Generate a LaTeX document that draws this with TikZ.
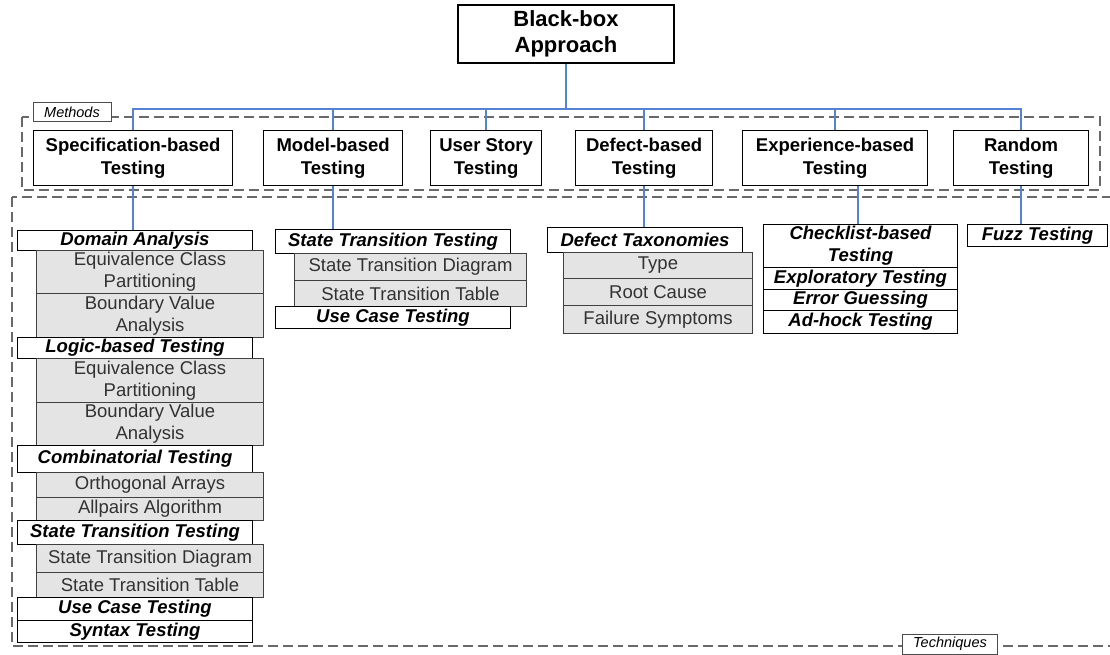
\documentclass[tikz,border=0pt]{standalone}
\usepackage{fontspec}
\setmainfont{Liberation Sans}
\usepackage{xcolor}
\usepackage{tikz}
\usetikzlibrary{calc}
\definecolor{linkblue}{RGB}{85,130,210}
\definecolor{framegray}{RGB}{105,105,105}
\definecolor{itemgray}{RGB}{228,228,228}
\definecolor{itemtext}{RGB}{50,50,50}

\tikzset{
	topbox/.style={draw, line width=1.2pt, inner sep=0pt, align=center,
		font=\bfseries\fontsize{22}{26}\selectfont},
	methodbox/.style={draw, line width=1.2pt, inner sep=0pt, anchor=north west,
		minimum height=55pt, align=center, font=\bfseries\fontsize{18.5}{23}\selectfont},
	techhead/.style={draw, line width=1pt, fill=white, inner sep=0pt, anchor=north west,
		align=center, font=\bfseries\itshape\fontsize{18.5}{22}\selectfont},
	techitem/.style={draw=black!75, line width=1pt, fill=itemgray, text=itemtext,
		inner sep=0pt, anchor=north west, minimum width=227pt, align=center,
		font=\fontsize{18.5}{22}\selectfont},
	groupframe/.style={draw=framegray, line width=1.6pt, dash pattern=on 10pt off 5pt},
	grouplabel/.style={draw=black!70, fill=white, inner sep=0pt,
		font=\itshape\fontsize{14.5}{16}\selectfont},
	link/.style={draw=linkblue, line width=1.4pt}
}

\begin{document}
\begin{tikzpicture}[x=1pt, y=-1pt]
		\useasboundingbox (0, 0) rectangle (1110, 655);

		% group frames
		\draw[groupframe] (22, 117) rectangle (1100, 190);
		\draw[groupframe] (12, 197) rectangle (1118, 646);
		\node[grouplabel, minimum width=78pt, minimum height=19pt] (methodsLbl) at (72, 112) {Methods};
		\node[grouplabel, minimum width=95pt, minimum height=20pt] (techLbl) at (950, 644) {Techniques};

		% root and methods
		\node[topbox, minimum width=216pt, minimum height=58pt] (bb) at (566, 34) {Black-box\\Approach};

		\node[methodbox, minimum width=199pt] (spec) at (33, 130) {Specification-based\\Testing};
		\node[methodbox, minimum width=139pt] (model) at (263, 130) {Model-based\\Testing};
		\node[methodbox, minimum width=111pt] (story) at (430, 130) {User Story\\Testing};
		\node[methodbox, minimum width=137pt] (defect) at (575, 130) {Defect-based\\Testing};
		\node[methodbox, minimum width=185pt] (exper) at (742, 130) {Experience-based\\Testing};
		\node[methodbox, minimum width=135pt] (rand) at (953, 130) {Random\\Testing};

		\coordinate (bus) at (566, 109);
		\draw[link] (bb.south) -- (bus);
		\foreach \m in {spec, model, story, defect, exper, rand}
			\draw[link] (bus) -| (\m.north);

		% specification-based techniques
		\node[techhead, minimum width=235pt, minimum height=20pt] (domA) at (17, 230) {Domain Analysis};
		\node[techitem, minimum height=43pt] (domEq) at (36, 250) {Equivalence Class\\Partitioning};
		\node[techitem, minimum height=44pt] (domBv) at (36, 293) {Boundary Value\\Analysis};
		\node[techhead, minimum width=235pt, minimum height=21pt] (logic) at (17, 337) {Logic-based Testing};
		\node[techitem, minimum height=44pt] (logEq) at (36, 358) {Equivalence Class\\Partitioning};
		\node[techitem, minimum height=43pt] (logBv) at (36, 402) {Boundary Value\\Analysis};
		\node[techhead, minimum width=235pt, minimum height=27pt] (comb) at (17, 445) {Combinatorial Testing};
		\node[techitem, minimum height=25pt] (orth) at (36, 472) {Orthogonal Arrays};
		\node[techitem, minimum height=23pt] (allp) at (36, 497) {Allpairs Algorithm};
		\node[techhead, minimum width=235pt, minimum height=24pt] (stateL) at (17, 520) {State Transition Testing};
		\node[techitem, minimum height=28pt] (diagL) at (36, 544) {State Transition Diagram};
		\node[techitem, minimum height=25pt] (tableL) at (36, 572) {State Transition Table};
		\node[techhead, minimum width=235pt, minimum height=23pt] (useL) at (17, 597) {Use Case Testing};
		\node[techhead, minimum width=235pt, minimum height=22pt] (syntax) at (17, 620) {Syntax Testing};

		% model-based techniques
		\node[techhead, minimum width=235pt, minimum height=24pt] (stateM) at (275, 229) {State Transition Testing};
		\node[techitem, minimum width=232pt, minimum height=27pt] (diagM) at (294, 253) {State Transition Diagram};
		\node[techitem, minimum width=232pt, minimum height=26pt] (tableM) at (294, 280) {State Transition Table};
		\node[techhead, minimum width=235pt, minimum height=22pt] (useM) at (275, 306) {Use Case Testing};

		% defect-based techniques
		\node[techhead, minimum width=195pt, minimum height=25pt] (taxo) at (547, 227) {Defect Taxonomies};
		\node[techitem, minimum width=189pt, minimum height=26pt] (type) at (563, 252) {Type};
		\node[techitem, minimum width=189pt, minimum height=27pt] (root) at (563, 278) {Root Cause};
		\node[techitem, minimum width=189pt, minimum height=28pt] (fail) at (563, 305) {Failure Symptoms};

		% experience-based techniques
		\node[techhead, minimum width=194pt, minimum height=43pt] (check) at (763, 224) {Checklist-based\\Testing};
		\node[techhead, minimum width=194pt, minimum height=22pt] (explo) at (763, 267) {Exploratory Testing};
		\node[techhead, minimum width=194pt, minimum height=21pt] (guess) at (763, 289) {Error Guessing};
		\node[techhead, minimum width=194pt, minimum height=23pt] (adhock) at (763, 310) {Ad-hock Testing};

		% random techniques
		\node[techhead, minimum width=140pt, minimum height=22pt] (fuzz) at (967, 224) {Fuzz Testing};

		\draw[link] (spec.south) -- (spec.south |- domA.north);
		\draw[link] (model.south) -- (model.south |- stateM.north);
		\draw[link] (defect.south) -- (defect.south |- taxo.north);
		\draw[link] (check.north) ++(-2.5, 0) coordinate (checkTop) -- (checkTop |- exper.south);
		\draw[link] (rand.south) -- (rand.south |- fuzz.north);
	\end{tikzpicture}
\end{document}
